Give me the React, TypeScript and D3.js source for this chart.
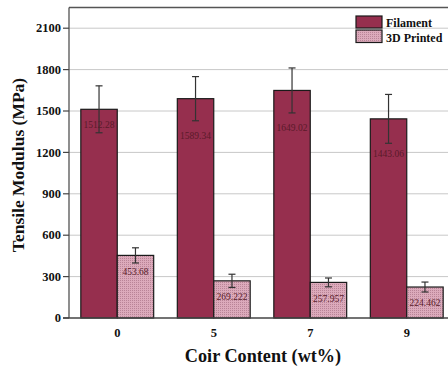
import React from "react";
import * as d3 from "d3";

// Coir content (wt%) categories
const categories = ["0", "5", "7", "9"];
// Tensile modulus (MPa)
const filament = [1512.28, 1589.34, 1649.02, 1443.06];
const filamentErr = [170, 160, 163, 177];
const printed = [453.68, 269.222, 257.957, 224.462];
const printedErr = [55, 48, 32, 36];
const yTicks = [0, 300, 600, 900, 1200, 1500, 1800, 2100];
const seriesNames = ["Filament", "3D Printed"];

const W = 448;
const H = 370;
const left = 69;
const right = 455;
const top = 7.5;
const bottom = 318;

const serif = "'Liberation Serif', 'Times New Roman', serif";
const filamentColor = "#962f4e";
const printedColor = "#dcaabb";

// how far below each bar's top its value label sits (px)
const filamentLabelDrop = [15, 37, 37, 35];
const printedLabelDrop = [16, 16, 16, 15];

export default function App() {
  const y = d3.scaleLinear().domain([0, 2250]).range([bottom, top]);
  const x = d3
    .scaleBand<string>()
    .domain(categories)
    .range([left, right])
    .paddingInner(0.245)
    .paddingOuter(0.1225);
  const sub = d3
    .scaleBand<string>()
    .domain(seriesNames)
    .range([0, x.bandwidth()]);

  const series = [
    { name: seriesNames[0], values: filament, errs: filamentErr, fill: filamentColor, drop: filamentLabelDrop },
    { name: seriesNames[1], values: printed, errs: printedErr, fill: "url(#dots)", drop: printedLabelDrop },
  ];

  return (
    <svg
      width={W}
      height={H}
      style={{ position: "absolute", left: 0, top: 0, background: "#fff", fontFamily: serif }}
    >
      <defs>
        <pattern id="dots" width={2} height={2} patternUnits="userSpaceOnUse">
          <rect width={2} height={2} fill={printedColor} />
          <rect width={1} height={1} fill="#b98497" />
        </pattern>
      </defs>

      {/* gridlines */}
      {yTicks.slice(1).map((t) => (
        <line key={t} x1={left} x2={right} y1={y(t)} y2={y(t)} stroke="#c8c8c8" strokeWidth={1} />
      ))}

      {/* frame top */}
      <line x1={left} x2={right} y1={top} y2={top} stroke="#555" strokeWidth={1.5} />

      {/* bars */}
      {series.map((s) =>
        categories.map((c, i) => {
          const bx = (x(c) ?? 0) + (sub(s.name) ?? 0);
          const bw = sub.bandwidth();
          const v = s.values[i];
          const cx = bx + bw / 2;
          return (
            <g key={s.name + c}>
              <rect
                x={bx}
                y={y(v)}
                width={bw}
                height={bottom - y(v)}
                fill={s.fill}
                stroke="#1a1a1a"
                strokeWidth={1.2}
              />
              <line x1={cx} x2={cx} y1={y(v + s.errs[i])} y2={y(v - s.errs[i])} stroke="#333" strokeWidth={1.2} />
              <line x1={cx - 3.5} x2={cx + 3.5} y1={y(v + s.errs[i])} y2={y(v + s.errs[i])} stroke="#333" strokeWidth={1.2} />
              <line x1={cx - 3.5} x2={cx + 3.5} y1={y(v - s.errs[i])} y2={y(v - s.errs[i])} stroke="#333" strokeWidth={1.2} />
              <text
                x={cx}
                y={y(v) + s.drop[i] + 3.5}
                textAnchor="middle"
                fontSize={9.5}
                fill="#5a1a2a"
              >
                {String(v)}
              </text>
            </g>
          );
        })
      )}

      {/* y axis */}
      <line x1={left} x2={left} y1={top} y2={bottom} stroke="#444" strokeWidth={1.2} />
      {yTicks.map((t) => (
        <g key={t}>
          <line x1={left - 6} x2={left} y1={y(t)} y2={y(t)} stroke="#444" strokeWidth={1.2} />
          <text x={left - 8} y={y(t) + 4.2} textAnchor="end" fontSize={12.5} fontWeight="bold" fill="#111">
            {t}
          </text>
        </g>
      ))}

      {/* x axis */}
      <line x1={left - 6} x2={right} y1={bottom} y2={bottom} stroke="#444" strokeWidth={1.5} />
      {categories.map((c) => (
        <text
          key={c}
          x={(x(c) ?? 0) + x.bandwidth() / 2}
          y={337}
          textAnchor="middle"
          fontSize={12.5}
          fontWeight="bold"
          fill="#111"
        >
          {c}
        </text>
      ))}

      {/* axis titles */}
      <text
        transform={`translate(24, 165) rotate(-90)`}
        textAnchor="middle"
        fontSize={17.5}
        fontWeight="bold"
        fill="#111"
      >
        Tensile Modulus (MPa)
      </text>
      <text x={263} y={362} textAnchor="middle" fontSize={18.2} fontWeight="bold" fill="#111">
        Coir Content (wt%)
      </text>

      {/* legend */}
      <rect x={356} y={16} width={26} height={12} fill={filamentColor} stroke="#1a1a1a" strokeWidth={1.2} />
      <rect x={356} y={30} width={26} height={12.5} fill="url(#dots)" stroke="#1a1a1a" strokeWidth={1.2} />
      <text x={386} y={27} fontSize={12} fontWeight="bold" fill="#111">
        {seriesNames[0]}
      </text>
      <text x={386} y={41.5} fontSize={12} fontWeight="bold" fill="#111">
        {seriesNames[1]}
      </text>
    </svg>
  );
}
